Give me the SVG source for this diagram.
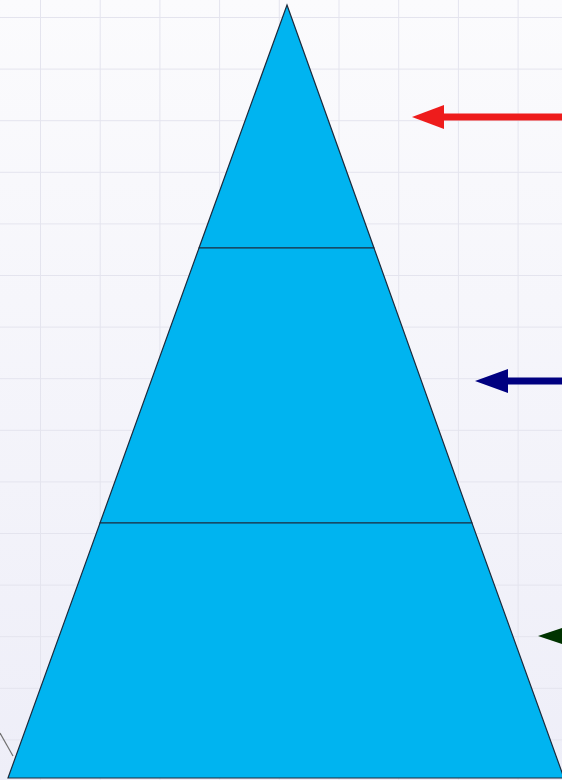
<svg xmlns="http://www.w3.org/2000/svg" width="562" height="780" viewBox="0 0 562 780">
<defs>
<linearGradient id="bg" x1="0" y1="0" x2="0" y2="1">
<stop offset="0" stop-color="#fbfbfd"/>
<stop offset="1" stop-color="#eeeef8"/>
</linearGradient>
<pattern id="grid" x="40" y="17" width="59.7" height="51.6" patternUnits="userSpaceOnUse">
<path d="M0 0V51.6M0 0H59.7" fill="none" stroke="#e4e4ee" stroke-width="2"/>
</pattern>
</defs>
<style>
.tier{fill:#00b4f0;stroke:#1c2a3c;stroke-width:1.2}
.shaft{stroke-width:7;fill:none}
</style>
<rect width="562" height="780" fill="url(#bg)"/>
<rect width="562" height="780" fill="url(#grid)"/>
<line x1="0" y1="733" x2="13" y2="756" stroke="#707070" stroke-width="1.2"/>
<g id="tier-top"><polygon class="tier" points="287,5 374,248 199,248"/></g>
<g id="tier-middle"><polygon class="tier" points="199,248 374,248 472,523 100,523"/></g>
<g id="tier-bottom"><polygon class="tier" points="100,523 472,523 564,778 8,778"/></g>
<g id="connectors">
<g id="arrow-red"><line class="shaft" x1="440" y1="117" x2="562" y2="117" stroke="#ee1c1c"/><polygon points="412,117 444,105 444,129" fill="#ee1c1c"/></g>
<g id="arrow-blue"><line class="shaft" x1="505" y1="381" x2="562" y2="381" stroke="#000080"/><polygon points="475,381 508,369 508,393" fill="#000080"/></g>
<g id="arrow-green"><line class="shaft" x1="565" y1="636" x2="570" y2="636" stroke="#003300"/><polygon points="538,636 571,625 571,647" fill="#003300"/></g>
</g>
</svg>
